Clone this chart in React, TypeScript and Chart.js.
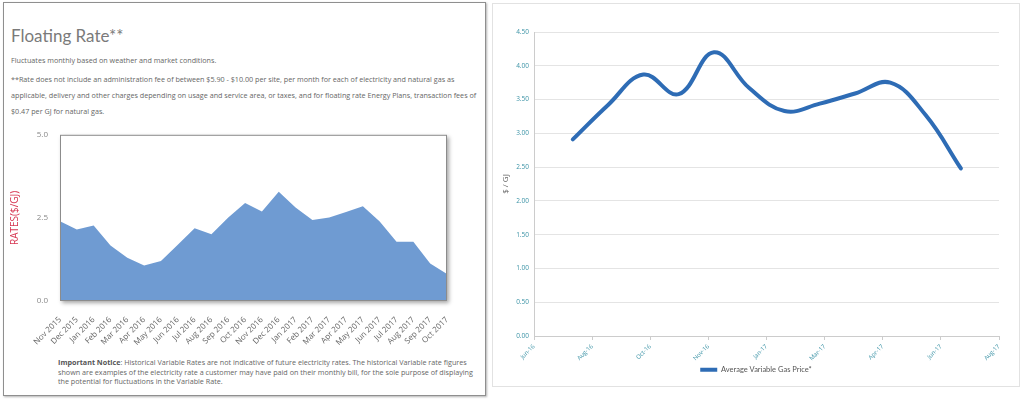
import React, { useEffect, useRef } from 'react';
import { Chart, registerables } from 'chart.js';

Chart.register(...registerables);

const FONT = '"Open Sans", "DejaVu Sans", sans-serif';
const FONT_NARROW = 'Lato, "Open Sans", sans-serif';

// ---------- Left chart data ----------
const rateMonths = [
  'Nov 2015', 'Dec 2015', 'Jan 2016', 'Feb 2016', 'Mar 2016', 'Apr 2016',
  'May 2016', 'Jun 2016', 'Jul 2016', 'Aug 2016', 'Sep 2016', 'Oct 2016',
  'Nov 2016', 'Dec 2016', 'Jan 2017', 'Feb 2017', 'Mar 2017', 'Apr 2017',
  'May 2017', 'Jun 2017', 'Jul 2017', 'Aug 2017', 'Sep 2017', 'Oct 2017',
];
const rates = [
  2.40, 2.15, 2.27, 1.67, 1.30, 1.07,
  1.20, 1.69, 2.19, 2.01, 2.51, 2.95,
  2.69, 3.29, 2.81, 2.44, 2.51, 2.68,
  2.85, 2.39, 1.78, 1.78, 1.13, 0.81,
];
const rateTicks = [0, 2.5, 5];

// ---------- Right chart data ----------
const gasMonths = [
  'Jul-16', 'Aug-16', 'Sep-16', 'Oct-16', 'Nov-16', 'Dec-16',
  'Jan-17', 'Feb-17', 'Mar-17', 'Apr-17', 'May-17', 'Jun-17',
];
const gasPrices = [2.91, 3.42, 3.87, 3.58, 4.20, 3.67, 3.33, 3.44, 3.59, 3.75, 3.27, 2.48];
const gasAxisLabels = ['Jun-16', 'Aug-16', 'Oct-16', 'Nov-16', 'Jan-17', 'Mar-17', 'Apr-17', 'Jun-17', 'Aug-17'];
const gasAxisMin = -1.1;
const gasAxisMax = 12.08;
const gasYTicks = [0, 0.5, 1, 1.5, 2, 2.5, 3, 3.5, 4, 4.5];

// ---------- Text ----------
const titleText = 'Floating Rate**';
const subText = 'Fluctuates monthly based on weather and market conditions.';
const feeLines = [
  '**Rate does not include an administration fee of between $5.90 - $10.00 per site, per month for each of electricity and natural gas as',
  'applicable, delivery and other charges depending on usage and service area, or taxes, and for floating rate Energy Plans, transaction fees of',
  '$0.47 per GJ for natural gas.',
];
const noticeLead = 'Important Notice';
const noticeLines = [
  ': Historical Variable Rates are not indicative of future electricity rates. The historical Variable rate figures',
  'shown are examples of the electricity rate a customer may have paid on their monthly bill, for the sole purpose of displaying',
  'the potential for fluctuations in the Variable Rate.',
];

const plotBox = {
  id: 'plotBox',
  beforeDatasetsDraw(chart: any) {
    const { ctx, chartArea: a } = chart;
    ctx.save();
    ctx.shadowColor = 'rgba(0,0,0,0.35)';
    ctx.shadowBlur = 4;
    ctx.shadowOffsetX = 2;
    ctx.shadowOffsetY = 2;
    ctx.fillStyle = '#ffffff';
    ctx.fillRect(a.left, a.top, a.width, a.height);
    ctx.restore();
  },
  afterDatasetsDraw(chart: any) {
    const { ctx, chartArea: a } = chart;
    ctx.save();
    ctx.strokeStyle = '#8c8c8c';
    ctx.lineWidth = 1;
    ctx.strokeRect(a.left + 0.5, a.top + 0.5, a.width - 1, a.height - 1);
    ctx.restore();
  },
};

function RatesChart() {
  const ref = useRef<HTMLCanvasElement>(null);
  useEffect(() => {
    const chart = new Chart(ref.current as HTMLCanvasElement, {
      type: 'line',
      data: {
        labels: rateMonths,
        datasets: [{
          data: rates,
          fill: 'origin',
          backgroundColor: '#6f9bd2',
          borderWidth: 0,
          pointRadius: 0,
          tension: 0,
        }],
      },
      options: {
        animation: false,
        responsive: false,
        maintainAspectRatio: false,
        layout: { padding: { top: 12, right: 36, left: 0, bottom: 0 } },
        plugins: { legend: { display: false }, tooltip: { enabled: false } },
        scales: {
          x: {
            grid: { display: false },
            border: { display: false },
            ticks: {
              autoSkip: false, maxRotation: 45, minRotation: 45,
              color: '#666', font: { family: FONT, size: 8 }, padding: 6,
            },
            afterFit: (s: any) => { s.height = 47; },
          },
          y: {
            min: 0, max: 5,
            afterBuildTicks: (s: any) => { s.ticks = rateTicks.map(v => ({ value: v })); },
            grid: { display: false, drawTicks: false },
            border: { display: false },
            ticks: {
              color: '#888', font: { family: FONT, size: 8 }, padding: 12,
              callback: (v: any) => Number(v).toFixed(1),
            },
            title: {
              display: true, text: 'RATES($/GJ)', color: '#d6334f',
              font: { family: FONT, size: 10 }, padding: { top: 4, bottom: 0 },
            },
            afterFit: (s: any) => { s.width = 55; },
          },
        },
      },
      plugins: [plotBox],
    } as any);
    return () => chart.destroy();
  }, []);
  return <canvas ref={ref} width={478} height={230} style={{ position: 'absolute', left: 5, top: 118, width: 478, height: 230 }} />;
}

function GasChart() {
  const ref = useRef<HTMLCanvasElement>(null);
  useEffect(() => {
    const chart = new Chart(ref.current as HTMLCanvasElement, {
      type: 'line',
      data: {
        labels: gasMonths,
        datasets: [{
          label: 'Average Variable Gas Price*',
          data: gasPrices.map((v, i) => ({ x: i, y: v })),
          borderColor: '#2e6cb5',
          backgroundColor: '#2e6cb5',
          borderWidth: 4,
          pointRadius: 0,
          tension: 0.4,
          fill: false,
          borderCapStyle: 'round',
        }],
      },
      options: {
        animation: false,
        responsive: false,
        maintainAspectRatio: false,
        layout: { padding: { top: 29, right: 0, left: 0, bottom: 2.5 } },
        plugins: {
          tooltip: { enabled: false },
          legend: {
            position: 'bottom',
            labels: {
              usePointStyle: true, pointStyle: 'line', pointStyleWidth: 17,
              color: '#555', font: { family: FONT_NARROW, size: 7.5 }, padding: 4,
            },
          },
        },
        scales: {
          x: {
            type: 'linear',
            min: gasAxisMin, max: gasAxisMax,
            afterBuildTicks: (s: any) => {
              const n = gasAxisLabels.length - 1;
              s.ticks = gasAxisLabels.map((_, i) => ({ value: gasAxisMin + (i * (gasAxisMax - gasAxisMin)) / n }));
            },
            ticks: {
              autoSkip: false, maxRotation: 45, minRotation: 45,
              color: '#3c93a6', font: { family: FONT, size: 6 }, padding: 3,
              callback: (_v: any, i: number) => gasAxisLabels[i],
            },
            grid: { drawOnChartArea: false, tickLength: 4, color: '#cccccc' },
            border: { color: '#cccccc' },
            afterFit: (s: any) => { s.height = 26; },
          },
          y: {
            min: 0, max: 4.5,
            afterBuildTicks: (s: any) => { s.ticks = gasYTicks.map(v => ({ value: v })); },
            ticks: {
              color: '#3c93a6', font: { family: FONT, size: 6.5 }, padding: 5,
              callback: (v: any) => Number(v).toFixed(2),
            },
            grid: { color: '#e4e4e4', drawTicks: false },
            border: { color: '#cccccc' },
            title: {
              display: true, text: '$ / GJ', color: '#666',
              font: { family: FONT, size: 8 }, padding: { top: 8, bottom: 0 },
            },
            afterFit: (s: any) => { s.width = 41; },
          },
          yRight: {
            position: 'right',
            display: true,
            min: 0, max: 4.5,
            grid: { display: false, drawTicks: false },
            border: { display: false },
            ticks: { display: false },
            afterFit: (s: any) => { s.width = 20; },
          },
        },
      },
    } as any);
    return () => chart.destroy();
  }, []);
  return <canvas ref={ref} width={526} height={383} style={{ position: 'absolute', left: 493, top: 3, width: 526, height: 383 }} />;
}

export default function App() {
  const textStyle: React.CSSProperties = {
    position: 'absolute', fontFamily: FONT, color: '#666', whiteSpace: 'nowrap',
  };
  return (
    <div style={{ position: 'fixed', left: 0, top: 0, width: 1024, height: 400, background: '#fff', overflow: 'hidden' }}>
      <div style={{ position: 'absolute', left: 3, top: 2, width: 481, height: 392, border: '1px solid #8f8f8f', boxShadow: '1px 1px 2px rgba(0,0,0,0.3)' }} />
      <div style={{ position: 'absolute', left: 492, top: 3, width: 526, height: 382, border: '1px solid #e2e2e2' }} />
      <div style={{ ...textStyle, fontFamily: FONT_NARROW, left: 11, top: 27, fontSize: 17, lineHeight: '17px', color: '#7a7a7a' }}>{titleText}</div>
      <div style={{ ...textStyle, left: 11, top: 55, fontSize: 7.2, lineHeight: '10px' }}>{subText}</div>
      <div style={{ ...textStyle, left: 11, top: 71, fontSize: 7.2, lineHeight: '16px' }}>
        {feeLines.map((l, i) => <div key={i}>{l}</div>)}
      </div>
      <div style={{ ...textStyle, left: 58, top: 358, fontSize: 7.2, lineHeight: '9.5px' }}>
        {noticeLines.map((l, i) => (
          <div key={i}>{i === 0 ? <b style={{ color: '#555' }}>{noticeLead}</b> : null}{l}</div>
        ))}
      </div>
      <RatesChart />
      <GasChart />
    </div>
  );
}
